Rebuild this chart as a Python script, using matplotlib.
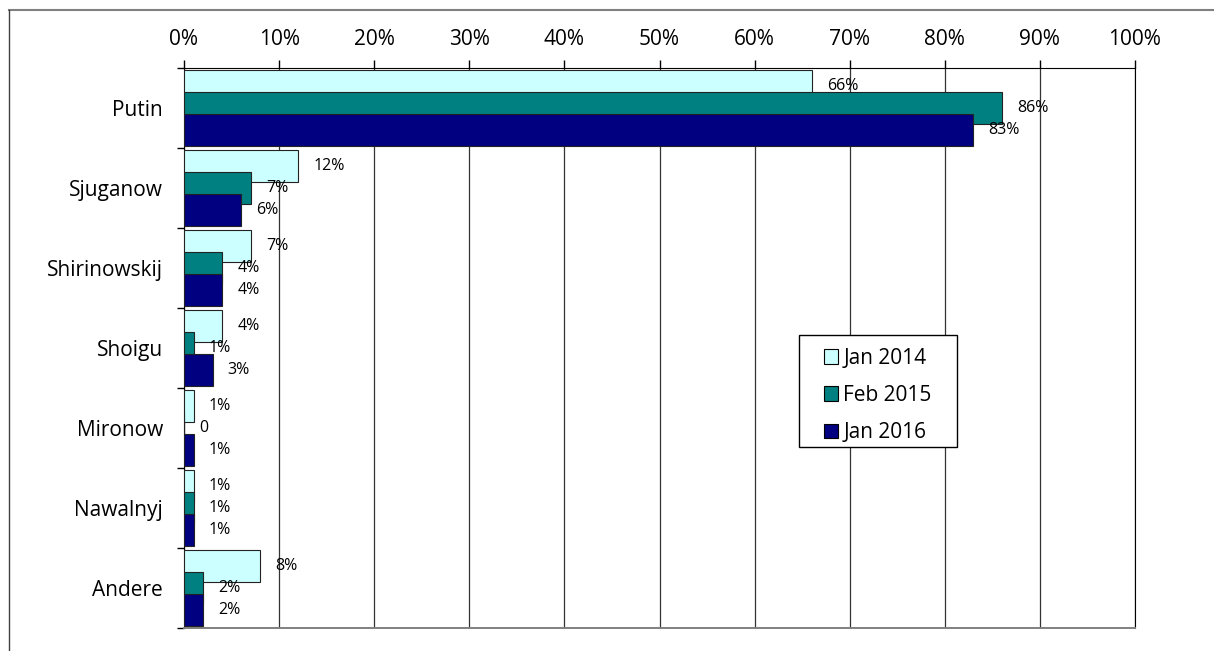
import numpy as np
from matplotlib import pyplot as plt
from matplotlib.lines import Line2D
from matplotlib.patches import Rectangle, Patch

plt.rcParams['font.family'] = ['Open Sans', 'DejaVu Sans']

CATEGORIES = ["Putin", "Sjuganow", "Shirinowskij", "Shoigu", "Mironow", "Nawalnyj", "Andere"]
SERIES = ["Jan 2014", "Feb 2015", "Jan 2016"]
JAN_2014 = [66, 12, 7, 4, 1, 1, 8]
FEB_2015 = [86, 7, 4, 1, 0, 1, 2]
JAN_2016 = [83, 6, 4, 3, 1, 1, 2]
COLORS = ["#CCFFFF", "#008080", "#000080"]
X_TICKS = list(range(0, 101, 10))

W, H = 1214, 651
fig = plt.figure(figsize=(W/100, H/100), dpi=100)

def fx(px):
    return px / W

def fy(py):
    return 1 - py / H

ax = fig.add_axes([fx(184), fy(628), fx(1135) - fx(184), fy(68) - fy(628)])

ypos = np.arange(len(CATEGORIES))
offsets = [-0.27, 0.0, 0.27]
all_vals = [JAN_2014, FEB_2015, JAN_2016]

for vals, off, col in zip(all_vals, offsets, COLORS):
    ax.barh(ypos + off, vals, height=0.4, color=col, edgecolor="#222222", linewidth=0.8, zorder=3)
    for y, v in zip(ypos + off, vals):
        lab = "0" if v == 0 else f"{v}%"
        ax.annotate(lab, xy=(v, y), xytext=(11, 0), textcoords="offset points",
                    ha="left", va="center", fontsize=11.5, zorder=5)

ax.set_xlim(0, 100)
ax.set_ylim(6.5, -0.5)
ax.xaxis.tick_top()
ax.set_xticks(X_TICKS)
ax.set_xticklabels([f"{t}%" for t in X_TICKS], fontsize=15)
ax.tick_params(axis="x", which="major", length=5.8, width=1, pad=7, color="black")

ax.set_yticks(np.arange(-0.5, 7, 1.0))
ax.set_yticklabels([])
ax.tick_params(axis="y", which="major", length=5, width=1, color="black")
ax.set_yticks(ypos, minor=True)
ax.set_yticklabels(CATEGORIES, minor=True, fontsize=15)
ax.tick_params(axis="y", which="minor", length=0, pad=15)

ax.grid(axis="x", color="#333333", linewidth=0.9, zorder=0)
ax.set_axisbelow(True)
ax.spines["top"].set_color("black")
ax.spines["left"].set_color("black")
ax.spines["right"].set_color("black")
ax.spines["bottom"].set_color("#808080")
ax.spines["bottom"].set_linewidth(1.4)

# legend box drawn by hand, entries via legend without frame
fig.patches.append(Rectangle((fx(799), fy(447)), fx(957) - fx(799), fy(335) - fy(447),
                             transform=fig.transFigure, facecolor="white", edgecolor="black",
                             linewidth=1, zorder=4))
handles = [Patch(facecolor=c, edgecolor="black", linewidth=0.8) for c in COLORS]
leg = fig.legend(handles, SERIES, loc="upper left", bbox_to_anchor=(fx(809), fy(333)),
                 frameon=False, fontsize=15, handlelength=0.7, handleheight=0.7,
                 handletextpad=0.25, labelspacing=0.78, borderpad=0.2)
leg.set_zorder(6)

# outer chart border (partially cropped)
fig.add_artist(Line2D([fx(9), 1], [fy(10), fy(10)], color="#808080", linewidth=1.5))
fig.add_artist(Line2D([fx(9), fx(9)], [fy(10), 0], color="#404040", linewidth=1))

fig.savefig("out.png", dpi=100)
